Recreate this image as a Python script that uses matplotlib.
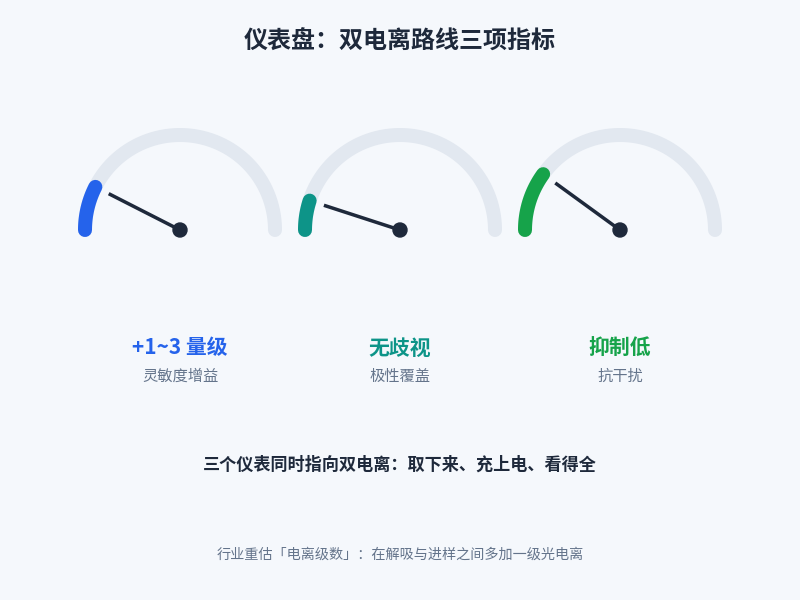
import matplotlib
matplotlib.use("Agg")
import matplotlib.pyplot as plt
import numpy as np
from matplotlib.patches import Circle

plt.rcParams['font.family'] = ['Noto Sans CJK SC', 'DejaVu Sans']

# data
title = "仪表盘：双电离路线三项指标"
values = [0.15, 0.10, 0.20]           # gauge fill, fraction of half circle
value_labels = ["+1~3 量级", "无歧视", "抑制低"]
sub_labels = ["灵敏度增益", "极性覆盖", "抗干扰"]
colors = ["#2563eb", "#0d9488", "#16a34a"]
summary = "三个仪表同时指向双电离：取下来、充上电、看得全"
footer = "行业重估「电离级数」：在解吸与进样之间多加一级光电离"

bg = "#f5f8fc"
track = "#e2e8f0"
dark = "#1e293b"
grey = "#64748b"

fig = plt.figure(figsize=(8, 6), dpi=100, facecolor=bg)
ax = fig.add_axes([0, 0, 1, 1])
ax.set_xlim(0, 800)
ax.set_ylim(600, 0)
ax.set_aspect("equal")
ax.axis("off")
ax.set_facecolor(bg)

centers_x = [180, 400, 620]
cy = 230
r = 95
lw = 14 * 72 / 100

for cx, v, lab, sub, col in zip(centers_x, values, value_labels, sub_labels, colors):
    t = np.linspace(np.pi, 0, 200)
    ax.plot(cx + r * np.cos(t), cy - r * np.sin(t), color=track, lw=lw,
            solid_capstyle="round", zorder=1)
    tv = np.linspace(np.pi, np.pi * (1 - v), 100)
    ax.plot(cx + r * np.cos(tv), cy - r * np.sin(tv), color=col, lw=lw,
            solid_capstyle="round", zorder=2)
    a = np.pi * (1 - v)
    nl = 80
    ax.plot([cx, cx + nl * np.cos(a)], [cy, cy - nl * np.sin(a)], color=dark,
            lw=3.5 * 72 / 100, solid_capstyle="butt", zorder=3)
    ax.add_patch(Circle((cx, cy), 7, color=dark, zorder=4))
    ax.text(cx, 348, lab, ha="center", va="center", fontsize=15,
            fontweight="bold", color=col)
    ax.text(cx, 376, sub, ha="center", va="center", fontsize=11, color=grey)

ax.text(400, 42, title, ha="center", va="center", fontsize=17.3,
        fontweight="bold", color=dark)
ax.text(400, 465, summary, ha="center", va="center", fontsize=12.3,
        fontweight="bold", color=dark)
ax.text(400, 555, footer, ha="center", va="center", fontsize=10.2, color=grey)

fig.savefig("out.png", dpi=100, facecolor=bg)
